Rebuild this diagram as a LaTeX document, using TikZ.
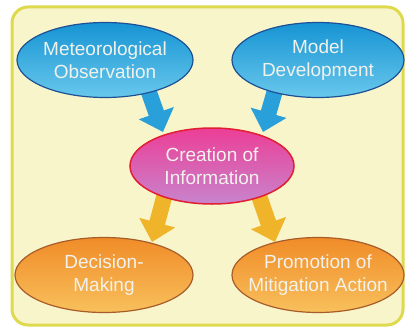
\documentclass[tikz,border=0pt]{standalone}
\usepackage{fontspec}
\setmainfont{Liberation Sans}
\usetikzlibrary{shapes.geometric,arrows.meta,calc}
\definecolor{bgfill}{RGB}{248,245,202}
\definecolor{bgline}{RGB}{222,218,78}
\definecolor{bluetop}{RGB}{22,148,212}
\definecolor{bluebot}{RGB}{105,200,236}
\definecolor{blueline}{RGB}{30,80,150}
\definecolor{pinktop}{RGB}{236,62,150}
\definecolor{pinkbot}{RGB}{200,132,205}
\definecolor{pinkline}{RGB}{225,30,50}
\definecolor{orangetop}{RGB}{240,140,40}
\definecolor{orangebot}{RGB}{248,192,92}
\definecolor{orangeline}{RGB}{168,92,42}
\definecolor{arrblue}{RGB}{42,160,218}
\definecolor{arrorange}{RGB}{240,180,42}
\definecolor{txtcol}{RGB}{242,242,236}
\begin{document}
\begin{tikzpicture}[x=1pt,y=-1pt,
  bubble/.style={ellipse, inner sep=0pt, line width=1.2pt,
    minimum width=176pt, minimum height=75pt},
  bluebub/.style={bubble, draw=blueline, top color=bluetop, bottom color=bluebot},
  pinkbub/.style={bubble, draw=pinkline, line width=1.5pt, top color=pinktop, bottom color=pinkbot,
    minimum width=164pt, minimum height=76pt},
  orangebub/.style={bubble, draw=orangeline, top color=orangetop, bottom color=orangebot},
  txt/.style={align=center, text=txtcol, font=\fontsize{19}{23}\selectfont, inner sep=0pt},
  bigarrow/.style={line width=16pt, -{Triangle[length=20pt,width=36pt]}},
  bluearrow/.style={bigarrow, draw=arrblue, fill=arrblue},
  orangearrow/.style={bigarrow, draw=arrorange, fill=arrorange}]
\useasboundingbox (0,0) rectangle (406,329);
\fill[white] (0,0) rectangle (406,329);
\draw[rounded corners=16pt, line width=3pt, draw=bgline, fill=bgfill] (12,7) rectangle (403,325);

% node positions (for arrow endpoints); ellipses drawn later on top
\path (105,60) coordinate (metc) (318,60) coordinate (modc) (212,166) coordinate (crec)
      (104,275) coordinate (decc) (318,275) coordinate (proc);

\coordinate (a1s) at ($(metc)+(40,21)$);
\coordinate (a1e) at ($(crec)+(-49,-34)$);
\coordinate (a2s) at ($(modc)+(-40,20)$);
\coordinate (a2e) at ($(crec)+(51,-34)$);
\coordinate (a3s) at ($(crec)+(-46,24)$);
\coordinate (a3e) at ($(decc)+(48,-33)$);
\coordinate (a4s) at ($(crec)+(45,24)$);
\coordinate (a4e) at ($(proc)+(-43,-33)$);

\draw[bluearrow] (a1s) -- (a1e);
\draw[bluearrow] (a2s) -- (a2e);
\draw[orangearrow] (a3s) -- (a3e);
\draw[orangearrow] (a4s) -- (a4e);

\node[bluebub, label={[txt]center:{Meteorological\\Observation}}] (met) at (metc) {};
\node[bluebub, minimum width=172pt, label={[txt]center:{Model\\Development}}] (mod) at (modc) {};
\node[pinkbub, label={[txt]center:{Creation of\\Information}}] (cre) at (crec) {};
\node[orangebub, minimum width=178pt, label={[txt]center:{Decision-\\Making}}] (dec) at (decc) {};
\node[orangebub, minimum width=172pt, label={[txt]center:{Promotion of\\Mitigation Action}}] (pro) at (proc) {};
\end{tikzpicture}
\end{document}
